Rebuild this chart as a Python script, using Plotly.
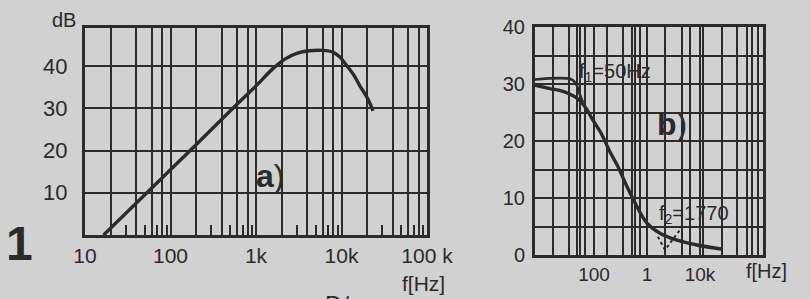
import plotly.graph_objects as go

# ---------------- data ----------------
# Panel a)
a_freq = [16.5, 170, 537, 1000, 1600, 2200, 3000, 4200, 6000, 7900, 9500,
          11600, 14000, 16400, 20000, 23400]
a_db = [0.0, 20.0, 30.0, 35.3, 39.5, 41.7, 43.0, 43.6, 43.7, 43.3, 42.2,
        40.0, 37.8, 35.3, 32.5, 29.4]
a_grid = [20, 40, 60, 80, 100, 200, 400, 600, 800, 1000, 2000, 4000, 6000, 8000,
          10000, 20000, 40000, 60000, 80000]
a_minor = [30, 50, 70, 90, 300, 500, 700, 900, 3000, 5000, 7000, 9000,
           30000, 50000, 70000, 90000]
a_xlabels = {10: "10", 100: "100", 1000: "1k", 10000: "10k", 100000: "100 k"}
a_ytick = [10, 20, 30, 40]

# Panel b)
b_freq = [7.7, 14.8, 26, 47.8, 67.7, 95, 141, 200, 284, 419, 648, 1000, 1757,
          3684, 8800, 27000]
b_db = [29.8, 29.2, 28.7, 27.5, 26.0, 23.7, 21.1, 18.1, 15.5, 12.0, 8.5, 5.6,
        3.8, 2.6, 1.75, 1.0]
b_asym1_freq = [7.7, 38, 46, 53, 62]
b_asym1_db = [30.8, 30.8, 30.0, 28.4, 26.8]
b_asym2_freq = [1610, 2190, 4190]
b_asym2_db = [3.2, 0.9, 4.4]
b_grid = [17, 34, 48, 55, 68, 100, 176, 350, 520, 600, 740, 1000, 2200, 4600,
          6500, 10000, 11500, 26000, 50000, 77000, 96000, 123000]
b_xlabels = {100: "100", 1000: "1", 10000: "10k"}
b_ytick = [0, 5, 10, 15, 20, 25, 30, 35, 40]

# ---------------- styling ----------------
W, H = 810, 299
INK = "#2b2b2b"
PAPER = "#d1d1d1"
FONT = "Liberation Sans, Arial, sans-serif"


def px(x):
    return x / W


def py(y):
    return 1 - y / H


fig = go.Figure()
fig.add_trace(go.Scatter(x=a_freq, y=a_db, mode="lines", line=dict(color=INK, width=3.4, shape="spline"),
                         xaxis="x", yaxis="y", showlegend=False, hoverinfo="skip"))
fig.add_trace(go.Scatter(x=b_freq, y=b_db, mode="lines", line=dict(color=INK, width=3.4, shape="spline"),
                         xaxis="x2", yaxis="y2", showlegend=False, hoverinfo="skip"))
fig.add_trace(go.Scatter(x=b_asym1_freq, y=b_asym1_db, mode="lines",
                         line=dict(color=INK, width=2.6, shape="spline"),
                         xaxis="x2", yaxis="y2", showlegend=False, hoverinfo="skip"))
fig.add_trace(go.Scatter(x=b_asym2_freq, y=b_asym2_db, mode="lines", line=dict(color=INK, width=2, dash="dot"),
                         xaxis="x2", yaxis="y2", showlegend=False, hoverinfo="skip"))

a_ticks = sorted(set(a_grid) | set(a_xlabels))
b_ticks = sorted(set(b_grid) | set(b_xlabels))

common = dict(showline=True, linewidth=3, linecolor=INK, mirror=True, ticks="",
              showgrid=True, gridcolor=INK, zeroline=False, automargin=False)

fig.update_layout(
    width=W, height=H, autosize=False,
    margin=dict(l=0, r=0, t=0, b=0, pad=0),
    paper_bgcolor=PAPER, plot_bgcolor=PAPER,
    xaxis=dict(domain=[px(85), px(427)], type="log", range=[1, 5], anchor="y",
               tickmode="array", tickvals=a_ticks,
               ticktext=[a_xlabels.get(v, "") for v in a_ticks],
               gridwidth=1.6, ticklabelstandoff=0,
               tickfont=dict(family=FONT, color=INK, size=21),
               minor=dict(tickmode="array", tickvals=a_minor, ticks="inside", ticklen=10,
                          tickwidth=1.6, tickcolor=INK, showgrid=False),
               **common),
    yaxis=dict(domain=[py(235), py(28)], range=[0, 49], anchor="x",
               tickmode="array", tickvals=a_ytick, ticktext=[str(v) for v in a_ytick],
               gridwidth=1.8, ticklabelstandoff=10,
               tickfont=dict(family=FONT, color=INK, size=22),
               **common),
    xaxis2=dict(domain=[px(535), px(763)], type="log", range=[0.887, 5.19], anchor="y2",
                tickmode="array", tickvals=b_ticks,
                ticktext=[b_xlabels.get(v, "") for v in b_ticks],
                gridwidth=1.5, ticklabelstandoff=0,
                tickfont=dict(family=FONT, color=INK, size=19),
                **common),
    yaxis2=dict(domain=[py(255), py(27)], range=[0, 40], anchor="x2",
                tickmode="array", tickvals=b_ytick,
                ticktext=[str(v) if v % 10 == 0 else "" for v in b_ytick],
                gridwidth=1.6, ticklabelstandoff=3,
                tickfont=dict(family=FONT, color=INK, size=20),
                **common),
)

ann = [
    dict(x=px(64), y=py(20), text="dB", size=20),
    dict(x=px(423), y=py(283), text="f[Hz]", size=21),
    dict(x=px(766), y=py(271), text="f[Hz]", size=20),
    dict(x=px(19), y=py(243), text="<b>1</b>", size=48),
    dict(x=px(270), y=py(176), text="<b>a</b>)", size=32),
    dict(x=px(672), y=py(124), text="<b>b</b>)", size=32),
    dict(x=px(615), y=py(72), text="f<sub>1</sub>=50Hz", size=20),
    dict(x=px(694), y=py(214), text="f<sub>2</sub>=1770", size=20),
]
for a in ann:
    fig.add_annotation(x=a["x"], y=a["y"], xref="paper", yref="paper", text=a["text"],
                       showarrow=False, xanchor="center", yanchor="middle",
                       font=dict(family=FONT, size=a["size"], color=INK))
fig.add_annotation(x=px(337), y=py(289), xref="paper", yref="paper", text="D/",
                   showarrow=False, xanchor="center", yanchor="top",
                   font=dict(family=FONT, size=24, color=INK))

fig.write_html("out.html", config={"displayModeBar": False},
               post_script="document.body.style.margin='0';document.body.style.overflow='hidden';")
